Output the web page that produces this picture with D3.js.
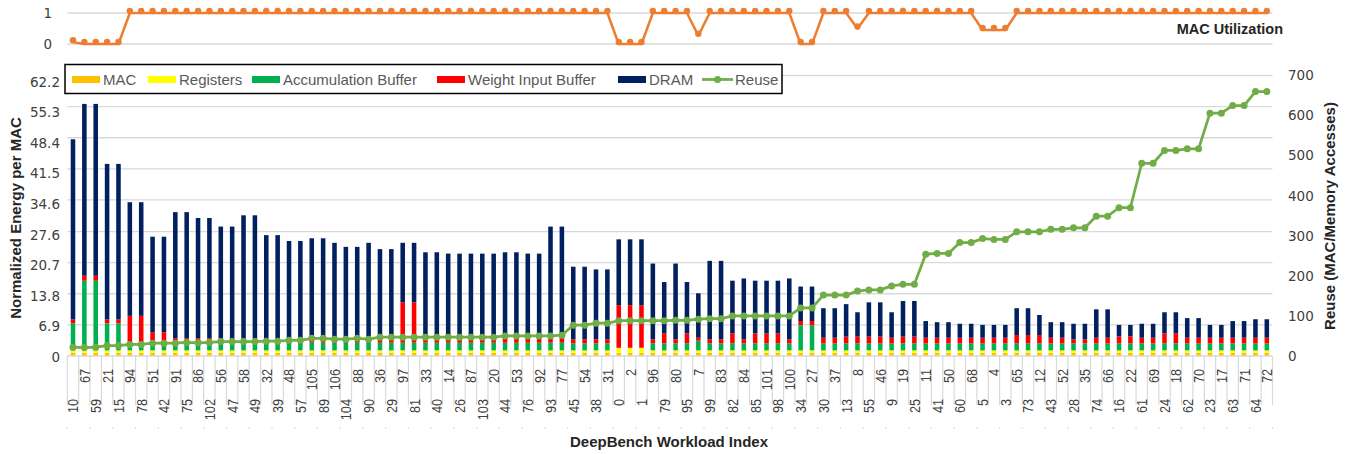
<!DOCTYPE html>
<html>
<head>
<meta charset="utf-8">
<script src="https://cdn.jsdelivr.net/npm/d3@7"></script>
<style>
  body { margin: 0; background: #fff; }
  text { font-family: "Liberation Sans", Arial, sans-serif; }
  .tick text { font-family: "DejaVu Sans", sans-serif; font-size: 13.5px; fill: #404040; }
</style>
</head>
<body>
<svg id="chart" width="1351" height="454"></svg>
<script>
/* global d3 */

// DeepBench workload index, in plotted order
const workloads = [
  10, 67, 59, 21, 15, 94, 78, 51, 42, 91,
  75, 86, 102, 56, 47, 58, 49, 32, 39, 48,
  57, 105, 89, 106, 104, 88, 90, 36, 29, 97,
  81, 33, 40, 14, 26, 87, 103, 20, 44, 53,
  76, 92, 93, 77, 45, 54, 38, 31, 0, 2,
  1, 96, 79, 80, 95, 7, 99, 83, 82, 84,
  85, 101, 98, 100, 34, 27, 30, 37, 13, 8,
  55, 46, 9, 19, 25, 11, 41, 50, 60, 68,
  5, 4, 3, 65, 73, 12, 43, 52, 28, 35,
  74, 66, 16, 22, 61, 69, 24, 18, 62, 70,
  23, 17, 63, 71, 64, 72];

// normalized energy per MAC, one array per component
const mac = [
  0.7, 0.7, 0.7, 0.7, 0.7, 0.7, 0.7, 0.7, 0.7, 0.7,
  0.7, 0.7, 0.7, 0.7, 0.7, 0.7, 0.7, 0.7, 0.7, 0.7,
  0.7, 0.7, 0.7, 0.7, 0.7, 0.7, 0.7, 0.7, 0.7, 0.7,
  0.7, 0.7, 0.7, 0.7, 0.7, 0.7, 0.7, 0.7, 0.7, 0.7,
  0.7, 0.7, 0.7, 0.7, 0.7, 0.7, 0.7, 0.7, 0.7, 0.7,
  0.7, 0.7, 0.7, 0.7, 0.7, 0.7, 0.7, 0.7, 0.7, 0.7,
  0.7, 0.7, 0.7, 0.7, 0.7, 0.7, 0.7, 0.7, 0.7, 0.7,
  0.7, 0.7, 0.7, 0.7, 0.7, 0.7, 0.7, 0.7, 0.7, 0.7,
  0.7, 0.7, 0.7, 0.7, 0.7, 0.7, 0.7, 0.7, 0.7, 0.7,
  0.7, 0.7, 0.7, 0.7, 0.7, 0.7, 0.7, 0.7, 0.7, 0.7,
  0.7, 0.7, 0.7, 0.7, 0.7, 0.7];

const registers = [
  0.55, 0.55, 0.55, 0.55, 0.55, 0.55, 0.55, 0.55, 0.55, 0.55,
  0.55, 0.55, 0.55, 0.55, 0.55, 0.55, 0.55, 0.55, 0.55, 0.55,
  0.55, 0.55, 0.55, 0.55, 0.55, 0.55, 0.55, 0.55, 0.55, 0.55,
  0.55, 0.55, 0.55, 0.55, 0.55, 0.55, 0.55, 0.55, 0.55, 0.55,
  0.55, 0.55, 0.55, 0.55, 0.55, 0.55, 0.55, 0.55, 1.12, 1.12,
  1.12, 0.55, 0.55, 0.55, 0.55, 0.55, 0.55, 0.55, 0.55, 0.55,
  0.55, 0.55, 0.55, 0.55, 0.55, 0.55, 0.55, 0.55, 0.55, 0.55,
  0.55, 0.55, 0.55, 0.55, 0.55, 0.55, 0.55, 0.55, 0.55, 0.55,
  0.55, 0.55, 0.55, 0.55, 0.55, 0.55, 0.55, 0.55, 0.55, 0.55,
  0.55, 0.55, 0.55, 0.55, 0.55, 0.55, 0.55, 0.55, 0.55, 0.55,
  0.55, 0.55, 0.55, 0.55, 0.55, 0.55];

const accBuffer = [
  6.0, 15.45, 15.45, 6.0, 6.0, 1.7, 1.7, 2.15, 2.15, 1.7,
  1.7, 1.7, 1.7, 1.7, 1.7, 1.7, 1.7, 1.7, 1.7, 1.7,
  1.7, 1.7, 1.7, 1.7, 1.7, 1.7, 1.7, 1.7, 1.7, 1.7,
  1.7, 1.7, 1.7, 1.7, 1.7, 1.7, 1.7, 1.7, 1.7, 1.7,
  1.7, 1.7, 1.7, 1.7, 1.55, 1.55, 1.55, 1.55, 0, 0,
  0, 1.55, 1.55, 1.55, 1.55, 2.15, 1.55, 1.55, 1.55, 1.55,
  1.55, 1.55, 1.55, 1.55, 5.55, 5.55, 1.55, 1.55, 1.55, 1.55,
  1.55, 1.55, 1.55, 1.55, 1.55, 1.55, 1.55, 1.55, 1.55, 1.55,
  1.55, 1.55, 1.55, 1.55, 1.55, 1.55, 1.55, 1.55, 1.55, 1.55,
  1.55, 1.55, 1.55, 1.55, 1.55, 1.55, 1.55, 1.55, 1.55, 1.55,
  1.55, 1.55, 1.55, 1.55, 1.55, 1.55];

const weightBuffer = [
  0.85, 1.1, 1.1, 0.85, 0.85, 5.95, 5.95, 1.85, 1.85, 1.0,
  1.0, 1.0, 1.0, 1.0, 1.0, 1.0, 1.0, 1.0, 1.0, 1.0,
  1.0, 1.0, 1.0, 1.0, 1.0, 1.0, 1.0, 1.0, 1.0, 8.95,
  8.95, 1.0, 1.0, 1.0, 1.0, 1.0, 1.0, 1.0, 1.5, 1.5,
  1.5, 1.5, 1.0, 1.0, 0.9, 0.9, 0.9, 0.9, 9.45, 9.45,
  9.45, 0.9, 2.2, 0.9, 2.2, 0.65, 0.9, 0.9, 2.2, 0.9,
  2.2, 2.2, 2.2, 0.9, 0.95, 0.95, 1.25, 1.25, 1.5, 1.5,
  1.5, 1.5, 1.25, 1.5, 1.5, 1.25, 1.25, 1.25, 1.25, 1.25,
  1.25, 1.25, 1.25, 1.85, 1.85, 1.85, 1.25, 1.25, 0.9, 0.9,
  1.25, 1.25, 1.55, 1.55, 1.25, 1.25, 2.2, 2.2, 1.25, 1.25,
  1.25, 1.25, 1.25, 1.25, 1.25, 1.25];

const dram = [
  39.95, 38.1, 38.1, 34.5, 34.5, 25.2, 25.2, 21.2, 21.2, 27.95,
  27.95, 26.65, 26.65, 24.75, 24.75, 27.25, 27.25, 22.85, 22.85, 21.55,
  21.55, 22.15, 22.15, 21.15, 20.25, 20.25, 21.15, 19.75, 19.75, 13.2,
  13.2, 19.05, 19.05, 18.75, 18.75, 18.75, 18.75, 18.75, 18.55, 18.55,
  18.25, 18.25, 24.75, 24.75, 16.1, 16.1, 15.5, 15.5, 14.6, 14.6,
  14.6, 16.8, 11.4, 16.8, 11.4, 9.85, 17.4, 17.4, 11.7, 13.5,
  11.7, 11.7, 11.7, 13.5, 7.65, 7.65, 6.55, 6.55, 7.2, 5.4,
  7.6, 7.6, 5.65, 7.9, 7.9, 3.7, 3.45, 3.45, 3.1, 3.1,
  2.85, 2.85, 2.85, 5.95, 5.95, 4.45, 3.45, 3.45, 3.45, 3.45,
  6.3, 6.3, 2.55, 2.55, 3.1, 3.1, 4.7, 4.7, 4.35, 4.35,
  2.85, 2.85, 3.7, 3.7, 4.1, 4.1];

// reuse (MAC / memory accesses), right axis
const reuse = [
  22, 21, 22, 26, 26, 29, 29, 32, 32, 32,
  34, 33, 34, 36, 36, 36, 36, 37, 37, 39,
  39, 44, 44, 42, 42, 44, 42, 47, 47, 47,
  47, 47, 47, 47, 47, 47, 47, 47, 50, 50,
  50, 50, 50, 52, 77, 77, 82, 82, 88, 88,
  88, 88, 88, 89, 89, 92, 93, 93, 100, 100,
  100, 100, 100, 100, 120, 120, 152, 152, 152, 162,
  165, 165, 175, 179, 179, 254, 256, 256, 283, 283,
  293, 291, 291, 310, 310, 310, 316, 316, 320, 320,
  349, 349, 370, 370, 481, 481, 513, 513, 517, 517,
  606, 606, 625, 625, 660, 660];

// MAC utilization, top strip
const utilization = [
  0.06, 0, 0, 0, 0, 1, 1, 1, 1, 1,
  1, 1, 1, 1, 1, 1, 1, 1, 1, 1,
  1, 1, 1, 1, 1, 1, 1, 1, 1, 1,
  1, 1, 1, 1, 1, 1, 1, 1, 1, 1,
  1, 1, 1, 1, 1, 1, 1, 1, 0, 0,
  0, 1, 1, 1, 1, 0.27, 1, 1, 1, 1,
  1, 1, 1, 1, 0, 0, 1, 1, 1, 0.5,
  1, 1, 1, 1, 1, 1, 1, 1, 1, 1,
  0.45, 0.45, 0.45, 1, 1, 1, 1, 1, 1, 1,
  1, 1, 1, 1, 1, 1, 1, 1, 1, 1,
  1, 1, 1, 1, 1, 1];

const leftTicks = [0, 6.9, 13.8, 20.7, 27.6, 34.6, 41.5, 48.4, 55.3, 62.2];
const rightTicks = [0, 100, 200, 300, 400, 500, 600, 700];
const utilTicks = [0, 1];

const seriesKeys = ['mac', 'registers', 'acc', 'wib', 'dram'];
const seriesNames = ['MAC', 'Registers', 'Accumulation Buffer', 'Weight Input Buffer', 'DRAM'];
const seriesColors = ['#ffc000', '#ffff00', '#00b050', '#ff0000', '#002060'];
const reuseColor = '#70ad47';
const utilColor = '#ed7d31';
const gridColor = '#d9d9d9';

const svg = d3.select('#chart');

const x = d3.scaleBand().domain(d3.range(workloads.length)).range([67.3, 1272.5]);
const y = d3.scaleLinear().domain([0, 62.2]).range([356, 75.5]);
const yR = d3.scaleLinear().domain([0, 700]).range([356, 75.5]);
const yU = d3.scaleLinear().domain([0, 1]).range([44, 13]);
const cx = i => x(i) + x.bandwidth() / 2;
const [x0, x1] = x.range();

// gridlines
svg.append('g').selectAll('line').data(leftTicks.slice(1)).join('line')
  .attr('x1', x0).attr('x2', x1)
  .attr('y1', d => y(d)).attr('y2', d => y(d))
  .attr('stroke', gridColor).attr('stroke-width', 1.3);

svg.append('g').selectAll('line').data(utilTicks).join('line')
  .attr('x1', x0).attr('x2', x1)
  .attr('y1', d => yU(d)).attr('y2', d => yU(d))
  .attr('stroke', gridColor).attr('stroke-width', 1.3);

// stacked bars
const rows = workloads.map((w, i) => ({
  i, mac: mac[i], registers: registers[i], acc: accBuffer[i], wib: weightBuffer[i], dram: dram[i],
}));
const stacked = d3.stack().keys(seriesKeys)(rows);
const barW = x.bandwidth() * 0.4;

svg.append('g').selectAll('g').data(stacked).join('g')
  .attr('fill', (d, k) => seriesColors[k])
  .selectAll('rect').data(d => d).join('rect')
  .attr('x', d => cx(d.data.i) - barW / 2)
  .attr('width', barW)
  .attr('y', d => y(d[1]))
  .attr('height', d => y(d[0]) - y(d[1]));

// x axis: baseline, category ticks, staggered labels
svg.append('line')
  .attr('x1', x0).attr('x2', x1).attr('y1', y(0)).attr('y2', y(0))
  .attr('stroke', gridColor).attr('stroke-width', 1.3);

const bounds = d3.range(workloads.length + 1).map(i => (i < workloads.length ? x(i) : x1));
svg.append('g').selectAll('line').data(bounds).join('line')
  .attr('x1', d => d).attr('x2', d => d)
  .attr('y1', y(0)).attr('y2', 405)
  .attr('stroke', gridColor).attr('stroke-width', 1.2);

svg.append('g').selectAll('rect').data(bounds.filter((d, i) => i % 2 === 0)).join('rect')
  .attr('x', d => d - 0.7).attr('y', 427.5).attr('width', 1.4).attr('height', 1.2)
  .attr('fill', '#cfcfcf');

svg.append('g').selectAll('text').data(workloads).join('text')
  .attr('transform', (d, i) => `translate(${cx(i)},${i % 2 ? 369 : 399}) rotate(-90) scale(0.82,1)`)
  .attr('text-anchor', 'end')
  .attr('dy', '0.35em')
  .style('font-size', '15.5px')
  .style('fill', '#404040')
  .text(d => d);

// left axis
const leftAxis = svg.append('g')
  .attr('transform', 'translate(63,0)')
  .call(d3.axisLeft(y).tickValues(leftTicks).tickSize(0).tickPadding(3)
    .tickFormat(d => (d === 0 ? '0' : d.toFixed(1))));
leftAxis.select('.domain').remove();
leftAxis.selectAll('.tick text').attr('transform', (d, i) => `translate(0,${1 + i * 0.6})`);

// right axis
const rightAxis = svg.append('g')
  .attr('transform', 'translate(1288,0)')
  .call(d3.axisRight(yR).tickValues(rightTicks).tickSize(0).tickPadding(0));
rightAxis.select('.domain').remove();

// utilization axis
const utilAxis = svg.append('g')
  .attr('transform', 'translate(55,0)')
  .call(d3.axisLeft(yU).tickValues(utilTicks).tickSize(0).tickPadding(3).tickFormat(d3.format('d')));
utilAxis.select('.domain').remove();

// MAC utilization line
svg.append('path')
  .datum(utilization)
  .attr('fill', 'none')
  .attr('stroke', utilColor)
  .attr('stroke-width', 2.5)
  .attr('stroke-linejoin', 'round')
  .attr('d', d3.line().x((d, i) => cx(i)).y(d => yU(d)));

svg.append('g').selectAll('circle').data(utilization).join('circle')
  .attr('cx', (d, i) => cx(i))
  .attr('cy', d => yU(d) - 2)
  .attr('r', 3.2)
  .attr('fill', utilColor);

svg.append('text')
  .attr('x', 1283).attr('y', 34)
  .attr('text-anchor', 'end')
  .style('font-size', '14.5px').style('font-weight', 'bold').style('fill', '#262626')
  .text('MAC Utilization');

// reuse line
svg.append('path')
  .datum(reuse)
  .attr('fill', 'none')
  .attr('stroke', reuseColor)
  .attr('stroke-width', 2.75)
  .attr('stroke-linejoin', 'round')
  .attr('d', d3.line().x((d, i) => cx(i)).y(d => yR(d)));

svg.append('g').selectAll('circle').data(reuse).join('circle')
  .attr('cx', (d, i) => cx(i))
  .attr('cy', d => yR(d))
  .attr('r', 3.5)
  .attr('fill', reuseColor);

// legend
const legend = svg.append('g');
legend.append('rect')
  .attr('x', 65).attr('y', 64.5).attr('width', 717).attr('height', 29)
  .attr('fill', '#fff').attr('stroke', '#000').attr('stroke-width', 1.5);

const legendX = [72, 148, 252, 437, 618];
const legendY = 79.5;
seriesNames.forEach((name, k) => {
  legend.append('rect')
    .attr('x', legendX[k]).attr('y', legendY - 3.5).attr('width', 28).attr('height', 7)
    .attr('fill', seriesColors[k]);
  legend.append('text')
    .attr('x', legendX[k] + 31).attr('y', legendY).attr('dy', '0.35em')
    .style('font-size', '15px').style('fill', '#595959')
    .text(name);
});
legend.append('line')
  .attr('x1', 702).attr('x2', 733).attr('y1', legendY).attr('y2', legendY)
  .attr('stroke', reuseColor).attr('stroke-width', 2.75);
legend.append('circle')
  .attr('cx', 717.5).attr('cy', legendY).attr('r', 3.5).attr('fill', reuseColor);
legend.append('text')
  .attr('x', 735).attr('y', legendY).attr('dy', '0.35em')
  .style('font-size', '15px').style('fill', '#595959')
  .text('Reuse');

// axis titles
const title = (text, tx, ty, rotate) => svg.append('text')
  .attr('transform', `translate(${tx},${ty})${rotate ? ' rotate(-90)' : ''}`)
  .attr('text-anchor', 'middle')
  .attr('dy', rotate ? '0.35em' : 0)
  .style('font-size', '15px').style('font-weight', 'bold').style('fill', '#262626')
  .text(text);

title('Normalized Energy per MAC', 16, 218, true);
title('Reuse (MAC/Memory Accesses)', 1330, 216, true);
title('DeepBench Workload Index', 669, 447, false);
</script>
</body>
</html>
